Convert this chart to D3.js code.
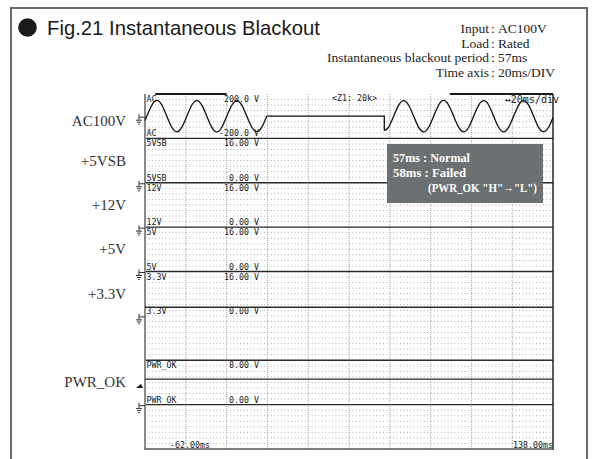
<!DOCTYPE html>
<html>
<head>
<meta charset="utf-8">
<script src="https://cdn.jsdelivr.net/npm/d3@7"></script>
<style>
  body { margin: 0; background: #fff; }
  svg { display: block; }
</style>
</head>
<body>
<svg id="chart" width="598" height="459"></svg>
<script>
// ---------------- data ----------------
const conditionKeys   = ["Input", "Load", "Instantaneous blackout period", "Time axis"];
const conditionValues = ["AC100V", "Rated", "57ms", "20ms/DIV"];

// one zone per row of the recorder screen
const zoneLabels  = ["AC100V", "+5VSB", "+12V", "+5V", "+3.3V", "", "PWR_OK", ""];
const zoneTags    = ["AC", "5VSB", "12V", "5V", "3.3V", null, "PWR_OK", null];
const zoneUpper   = [200, 16, 16, 16, 16, null, 8, null];   // V at zone top
const zoneLower   = [-200, 0, 0, 0, 0, null, 0, null];      // V at zone bottom
const zoneUpperText = ["200.0 V", "16.00 V", "16.00 V", "16.00 V", "16.00 V", null, "8.00 V", null];
const zoneLowerText = ["-200.0 V", "0.00 V", "0.00 V", "0.00 V", "0.00 V", null, "0.00 V", null];

const timeRange = [-62, 138];      // ms shown on screen
const timeDiv = 20;                // ms per division
const timeRangeText = ["-62.00ms", "138.00ms"];

// AC input (ms, V) before the blackout
const acBeforeTime = [-62, -61.1, -58.65, -56.2, -53.75, -51.3, -48.85, -46.4, -43.95, -41.5, -39.05, -36.6,
  -34.15, -31.7, -29.25, -26.8, -24.35, -21.9, -19.45, -17.0, -14.55, -12.1, -9.65, -7.2, -4.75, -2.3];
const acBeforeVolt = [-38, 0, 99, 142, 101, 0, -100, -141, -99, 0, 101, 141, 100, 0, -101, -142, -100, 0, 99, 141,
  100, 0, -100, -140, -99, 0];
// blackout interval (ms), input held at 0 V
const blackout = [-2.3, 55.3];
// AC input (ms, V) after recovery
const acAfterTime = [55.3, 57.45, 59.9, 62.35, 64.8, 67.25, 69.7, 72.15, 74.6, 77.05, 79.5, 81.95, 84.4, 86.85,
  89.3, 91.75, 94.2, 96.65, 99.1, 101.55, 104.0, 106.45, 108.9, 111.35, 113.8, 116.25, 118.7, 121.15, 123.6,
  126.05, 128.5, 130.95, 133.4, 135.85, 138];
const acAfterVolt = [-128, -98, 0, 100, 141, 99, 0, -101, -141, -100, 0, 101, 142, 100, 0, -99, -141, -100, 0,
  100, 140, 101, 0, -100, -142, -99, 0, 100, 141, 100, 0, -101, -140, -100, -12];

// DC levels held through the whole record (zone index, V)
const dcTraceZone  = [4, 6];
const dcTraceLevel = [3.1, 4.6];
const pwrOkTrigger = 3.0;          // V, trigger level on PWR_OK

const noteLines = ["57ms : Normal", "58ms : Failed", "(PWR_OK \"H\"\u2192\"L\")"];

// ---------------- drawing ----------------
const svg = d3.select("#chart");
const W = 598, H = 459;
const serif = "'Liberation Serif','Times New Roman',serif";
const sans = "'Liberation Sans',Arial,sans-serif";
const mono = "'DejaVu Sans Mono','Liberation Mono',monospace";

// outer frame
svg.append("rect").attr("x", 11).attr("y", 8).attr("width", 576).attr("height", H + 10)
  .attr("fill", "none").attr("stroke", "#6a6a6a").attr("stroke-width", 2);

// title
svg.append("circle").attr("cx", 27.5).attr("cy", 27.5).attr("r", 9.3).attr("fill", "#1a1a1a");
svg.append("text").attr("x", 47).attr("y", 34.5)
  .attr("font-family", sans).attr("font-size", 20.3).attr("fill", "#1a1a1a")
  .text("Fig.21 Instantaneous Blackout");

// test conditions
const condG = svg.append("g").attr("font-family", serif).attr("font-size", 13.5).attr("fill", "#222");
conditionKeys.forEach((k, i) => {
  const y = 32.8 + i * 14.8;
  condG.append("text").attr("x", 489).attr("y", y).attr("text-anchor", "end").text(k);
  condG.append("text").attr("x", 493).attr("y", y).attr("text-anchor", "middle").text(":");
  condG.append("text").attr("x", 498).attr("y", y).text(conditionValues[i]);
});

// recorder screen
const scr = { left: 145, right: 553, top: 94, bottom: 449 };
const x = d3.scaleLinear().domain(timeRange).range([scr.left, scr.right]);
const zoneY = d3.scaleLinear().domain([0, zoneTags.length]).range([scr.top, scr.bottom]);
const chanY = i => d3.scaleLinear().domain([zoneLower[i], zoneUpper[i]]).range([zoneY(i + 1), zoneY(i)]);

const grid = svg.append("g");
// fine dotted rows
d3.range(1, zoneTags.length * 8).forEach(k => {
  const y = zoneY(k / 8);
  grid.append("line").attr("x1", scr.left).attr("x2", scr.right).attr("y1", y).attr("y2", y)
    .attr("stroke", "#a6a6a6").attr("stroke-width", 0.9).attr("stroke-dasharray", "1,2.4");
});
// division columns
d3.range(timeRange[0] + timeDiv, timeRange[1], timeDiv).forEach(t => {
  grid.append("line").attr("x1", x(t)).attr("x2", x(t)).attr("y1", scr.top).attr("y2", scr.bottom)
    .attr("stroke", "#a0a0a0").attr("stroke-width", 0.9).attr("stroke-dasharray", "1,1");
});

// zone separators
[1, 2, 3, 4, 6, 7].forEach(k => {
  svg.append("line").attr("x1", scr.left).attr("x2", scr.right).attr("y1", zoneY(k)).attr("y2", zoneY(k))
    .attr("stroke", "#2a2a2a").attr("stroke-width", 1.4);
});

// screen border
svg.append("line").attr("x1", scr.left).attr("x2", scr.left).attr("y1", scr.top).attr("y2", scr.bottom + 1)
  .attr("stroke", "#8a8a8a").attr("stroke-width", 2);
svg.append("line").attr("x1", scr.right).attr("x2", scr.right).attr("y1", scr.top).attr("y2", scr.bottom + 1)
  .attr("stroke", "#222").attr("stroke-width", 1.5);
svg.append("line").attr("x1", scr.left).attr("x2", scr.right).attr("y1", scr.bottom).attr("y2", scr.bottom)
  .attr("stroke", "#555").attr("stroke-width", 1.5);
// record position bars along the top edge
const sw = scr.right - scr.left;
[[0.025, 0.2], [0.747, 1]].forEach(([a, b]) => {
  svg.append("line").attr("x1", scr.left + a * sw).attr("x2", scr.left + b * sw)
    .attr("y1", scr.top).attr("y2", scr.top).attr("stroke", "#1a1a1a").attr("stroke-width", 2);
});

// zone annotations
const lab = svg.append("g").attr("font-family", mono).attr("font-size", 8.3).attr("fill", "#222");
zoneTags.forEach((tag, i) => {
  if (!tag) return;
  lab.append("text").attr("x", scr.left + 1.5).attr("y", zoneY(i) + 8).text(tag);
  lab.append("text").attr("x", 259).attr("y", zoneY(i) + 8).attr("text-anchor", "end").text(zoneUpperText[i]);
  lab.append("text").attr("x", scr.left + 1.5).attr("y", zoneY(i + 1) - 2).text(tag);
  lab.append("text").attr("x", 259).attr("y", zoneY(i + 1) - 2).attr("text-anchor", "end").text(zoneLowerText[i]);
});
lab.append("text").attr("x", 332).attr("y", 101).text("<Z1: 20k>");
lab.append("text").attr("x", 559).attr("y", 102.5).attr("text-anchor", "end").attr("font-size", 10)
  .text("\u219420ms/div");
lab.append("text").attr("x", 170).attr("y", 448).text(timeRangeText[0]);
lab.append("text").attr("x", 553).attr("y", 448).attr("text-anchor", "end").text(timeRangeText[1]);

// channel names left of the screen (AC name sits on its 0 V marker)
const names = svg.append("g").attr("font-family", serif).attr("font-size", 15).attr("fill", "#333")
  .attr("text-anchor", "end");
zoneLabels.forEach((n, i) => {
  if (!n) return;
  const cy = i === 0 ? chanY(0)(0) + 5 : (zoneY(i) + zoneY(i + 1)) / 2;
  names.append("text").attr("x", 126).attr("y", cy + 5).text(n);
});

// ground markers at each channel's 0 V
zoneTags.forEach((tag, i) => {
  if (!tag) return;
  const g0 = chanY(i)(0) + 1;
  const p = d3.path();
  p.moveTo(139, g0); p.lineTo(scr.left, g0);
  p.moveTo(139, g0 - 3); p.lineTo(139, g0 + 3);
  p.moveTo(136, g0 + 3); p.lineTo(142, g0 + 3);
  p.moveTo(137, g0 + 5); p.lineTo(141, g0 + 5);
  p.moveTo(138.2, g0 + 7); p.lineTo(139.8, g0 + 7);
  svg.append("path").attr("d", p.toString()).attr("fill", "none").attr("stroke", "#333").attr("stroke-width", 1);
});

// trigger level mark on PWR_OK
const trigY = chanY(6)(pwrOkTrigger);
svg.append("path").attr("d", `M136,${trigY} L143,${trigY} L141,${trigY - 4} Z`).attr("fill", "#111");

// AC trace
const yAC = chanY(0);
const acLine = d3.line().x(d => x(d[0])).y(d => yAC(d[1])).curve(d3.curveNatural);
const before = acBeforeTime.map((t, i) => [t, acBeforeVolt[i]]);
const after = acAfterTime.map((t, i) => [t, acAfterVolt[i]]);
const trace = svg.append("g").attr("fill", "none").attr("stroke", "#111").attr("stroke-width", 1.3);
trace.append("path").attr("d", acLine(before));
trace.append("path").attr("d", d3.line().x(d => x(d[0])).y(d => yAC(d[1]))(
  [[blackout[0], 0], [blackout[1], 0], after[0]]));
trace.append("path").attr("d", acLine(after));

// DC traces
dcTraceZone.forEach((z, i) => {
  const yv = chanY(z)(dcTraceLevel[i]);
  trace.append("line").attr("x1", x(timeRange[0])).attr("x2", x(timeRange[1]))
    .attr("y1", yv).attr("y2", yv).attr("stroke", "#2a2a2a").attr("stroke-width", 1.4);
});

// result note
const note = svg.append("g");
note.append("rect").attr("x", 387).attr("y", 144).attr("width", 156).attr("height", 59).attr("fill", "#6b7172");
const nt = note.append("g").attr("font-family", serif).attr("font-size", 12.5).attr("font-weight", "bold")
  .attr("fill", "#fff");
nt.append("text").attr("x", 393).attr("y", 162).attr("textLength", 77).attr("lengthAdjust", "spacingAndGlyphs")
  .text(noteLines[0]);
nt.append("text").attr("x", 393).attr("y", 177).attr("textLength", 73).attr("lengthAdjust", "spacingAndGlyphs")
  .text(noteLines[1]);
nt.append("text").attr("x", 428).attr("y", 192).attr("textLength", 109).attr("lengthAdjust", "spacingAndGlyphs")
  .text(noteLines[2]);
</script>
</body>
</html>
